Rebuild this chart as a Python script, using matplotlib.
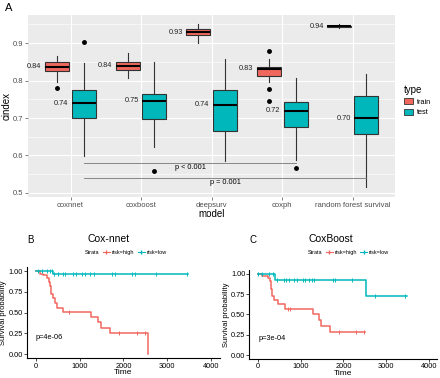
import numpy as np
import matplotlib
matplotlib.use("Agg")
import matplotlib.pyplot as plt
from matplotlib.patches import Patch
from matplotlib.lines import Line2D

plt.rcParams['font.family'] = ['Liberation Sans', 'DejaVu Sans']

# ---- panel A data (box stats) ----
models = ['coxnnet', 'coxboost', 'deepsurv', 'coxph', 'random forest survival']
train_lo = [0.795, 0.808, 0.900, 0.795, 0.940]
train_q1 = [0.826, 0.827, 0.921, 0.812, 0.944]
train_med = [0.837, 0.840, 0.929, 0.831, 0.945]
train_q3 = [0.851, 0.851, 0.937, 0.837, 0.946]
train_hi = [0.867, 0.873, 0.951, 0.858, 0.950]
train_out = [[0.779], [], [], [0.880, 0.777, 0.745], []]
train_lab = ['0.84', '0.84', '0.93', '0.83', '0.94']

test_lo = [0.598, 0.622, 0.584, 0.589, 0.516]
test_q1 = [0.700, 0.696, 0.664, 0.676, 0.656]
test_med = [0.740, 0.746, 0.736, 0.720, 0.699]
test_q3 = [0.774, 0.763, 0.776, 0.743, 0.760]
test_hi = [0.847, 0.851, 0.858, 0.807, 0.818]
test_out = [[0.902], [0.558], [], [0.567], []]
test_lab = ['0.74', '0.75', '0.74', '0.72', '0.70']

# ---- KM data ----
nnet_high_t = [0, 100, 175, 250, 300, 320, 340, 390, 440, 480, 630, 1260, 1430, 1490, 1700, 2550]
nnet_high_s = [1.0, 0.97, 0.95, 0.92, 0.87, 0.82, 0.72, 0.67, 0.62, 0.56, 0.51, 0.45, 0.39, 0.32, 0.25, 0.0]
nnet_high_cens = [760, 1900, 2300, 2500]
nnet_low_t = [0, 400, 3480]
nnet_low_s = [1.0, 0.96, 0.96]
nnet_low_cens = [50, 150, 250, 330, 380, 430, 500, 620, 680, 850, 920, 1050, 1120,
                 1230, 1320, 1750, 1800, 2200, 2260, 2750, 3450]

boost_high_t = [0, 100, 230, 290, 310, 330, 375, 470, 625, 1290, 1420, 1480, 1680, 2500]
boost_high_s = [1.0, 0.98, 0.95, 0.91, 0.82, 0.73, 0.68, 0.63, 0.57, 0.50, 0.43, 0.36, 0.29, 0.29]
boost_high_cens = [700, 760, 1900, 2300, 2480]
boost_low_t = [0, 390, 2520, 3480]
boost_low_s = [1.0, 0.92, 0.73, 0.73]
boost_low_cens = [10, 100, 250, 350, 450, 600, 650, 720, 850, 920, 1050, 1100, 1200,
                  1260, 1320, 1750, 1800, 2200, 2750, 3450]

red = '#F0675E'
teal = '#00B8BC'

fig = plt.figure(figsize=(4.4, 3.78), dpi=100)

# ================= panel A =================
ax = fig.add_axes([0.064, 0.479, 0.834, 0.481])
ax.set_facecolor('#EBEBEB')
x = np.arange(1, len(models) + 1)
off = 0.19
bw = 0.34


def make_stats(lo, q1, med, q3, hi, out):
    return [dict(whislo=a, q1=b, med=c, q3=d, whishi=e, fliers=f)
            for a, b, c, d, e, f in zip(lo, q1, med, q3, hi, out)]


for stats, pos, col in [
        (make_stats(train_lo, train_q1, train_med, train_q3, train_hi, train_out), x - off, red),
        (make_stats(test_lo, test_q1, test_med, test_q3, test_hi, test_out), x + off, teal)]:
    ax.bxp(stats, positions=pos, widths=bw, patch_artist=True, showcaps=False,
           boxprops=dict(facecolor=col, edgecolor='#333333', linewidth=0.8),
           medianprops=dict(color='black', linewidth=1.5),
           whiskerprops=dict(color='#333333', linewidth=0.8),
           flierprops=dict(marker='o', markerfacecolor='black', markeredgecolor='black',
                           markersize=2.5), zorder=3)

for i in range(len(models)):
    ax.text(x[i] - off - bw / 2 - 0.05, train_med[i], train_lab[i], ha='right', va='center',
            fontsize=5.3, color='#222222', zorder=4)
    ax.text(x[i] + off - bw / 2 - 0.05, test_med[i], test_lab[i], ha='right', va='center',
            fontsize=5.3, color='#222222', zorder=4)

# significance brackets
ax.plot([x[0] + off, x[3] + off], [0.58, 0.58], color='#777777', lw=0.6, zorder=4)
ax.text(2.7, 0.569, 'p < 0.001', fontsize=5.3, ha='center', va='center', zorder=4)
ax.plot([x[0] + off, x[4] + off], [0.54, 0.54], color='#777777', lw=0.6, zorder=4)
ax.text(3.2, 0.528, 'p = 0.001', fontsize=5.3, ha='center', va='center', zorder=4)

ax.set_xlim(0.4, 5.6)
ax.set_ylim(0.489, 0.975)
ax.set_xticks(x)
ax.set_xticklabels(models)
ax.set_yticks([0.5, 0.6, 0.7, 0.8, 0.9])
ax.set_yticks([0.55, 0.65, 0.75, 0.85, 0.95], minor=True)
ax.grid(True, which='major', color='white', lw=0.8, zorder=0)
ax.grid(True, which='minor', axis='y', color='white', lw=0.4, zorder=0)
ax.set_axisbelow(True)
for s in ax.spines.values():
    s.set_visible(False)
ax.tick_params(axis='both', labelsize=5.5, colors='#4D4D4D', length=2, width=0.5, pad=1.5)
ax.tick_params(axis='both', which='minor', length=0)
ax.set_xlabel('model', fontsize=7, labelpad=0)
ax.set_ylabel('cindex', fontsize=7, labelpad=1)
fig.text(0.012, 0.978, 'A', fontsize=8, va='center')

leg = fig.legend(handles=[Patch(facecolor=red, edgecolor='#333333', lw=0.6),
                          Patch(facecolor=teal, edgecolor='#333333', lw=0.6)],
                 labels=['train', 'test'], title='type', loc='upper left',
                 bbox_to_anchor=(0.91, 0.785), frameon=False, fontsize=5.3,
                 title_fontsize=7, handlelength=1.2, handleheight=1.0,
                 labelspacing=0.4, borderpad=0, handletextpad=0.5)
leg._legend_box.align = 'left'


# ================= panels B, C =================
def km_panel(rect, letter, title, ht, hs, hc, lt, ls, lc, ptxt):
    a = fig.add_axes(rect)
    for t, s, c, col in [(ht, hs, hc, red), (lt, ls, lc, teal)]:
        a.step(t, s, where='post', color=col, lw=1.1)
        idx = np.searchsorted(t, c, side='right') - 1
        a.plot(c, np.array(s)[idx], ls='none', marker='|', color=col, ms=3.5, mew=0.7)
    a.set_xlim(-200, 4200)
    a.set_ylim(-0.05, 1.05)
    a.set_xticks([0, 1000, 2000, 3000, 4000])
    a.set_yticks([0, 0.25, 0.5, 0.75, 1.0])
    a.set_yticklabels(['0.00', '0.25', '0.50', '0.75', '1.00'])
    a.spines['top'].set_visible(False)
    a.spines['right'].set_visible(False)
    a.spines['left'].set_linewidth(0.8)
    a.spines['bottom'].set_linewidth(0.8)
    a.tick_params(labelsize=5.3, length=2, width=0.5, pad=1)
    a.set_xlabel('Time', fontsize=6, labelpad=-0.5)
    a.set_ylabel('Survival probability', fontsize=5.5, labelpad=1)
    a.text(0, 0.2, ptxt, fontsize=5.3, va='center')
    bb = a.get_position()
    fig.text(bb.x0 + 0.0, 0.365, letter, fontsize=7, va='center')
    fig.text(bb.x0 + 0.185, 0.367, title, fontsize=7.5, va='center', ha='center')
    hnd = [Line2D([], [], color='none'),
           Line2D([], [], color=red, lw=0.8, marker='|', ms=3),
           Line2D([], [], color=teal, lw=0.8, marker='|', ms=3)]
    fig.legend(handles=hnd, labels=['Strata', 'risk=high', 'risk=low'], ncol=3,
               loc='center', bbox_to_anchor=(bb.x0 + 0.215, 0.333), frameon=False,
               fontsize=4, handlelength=1.3, handletextpad=0.3, columnspacing=0.6,
               borderpad=0)
    return a


km_panel([0.061, 0.052, 0.439, 0.242], 'B', 'Cox-nnet', nnet_high_t, nnet_high_s,
         nnet_high_cens, nnet_low_t, nnet_low_s, nnet_low_cens, 'p=4e-06')
km_panel([0.567, 0.05, 0.427, 0.236], 'C', 'CoxBoost', boost_high_t, boost_high_s,
         boost_high_cens, boost_low_t, boost_low_s, boost_low_cens, 'p=3e-04')

fig.savefig('out.png', dpi=100)
